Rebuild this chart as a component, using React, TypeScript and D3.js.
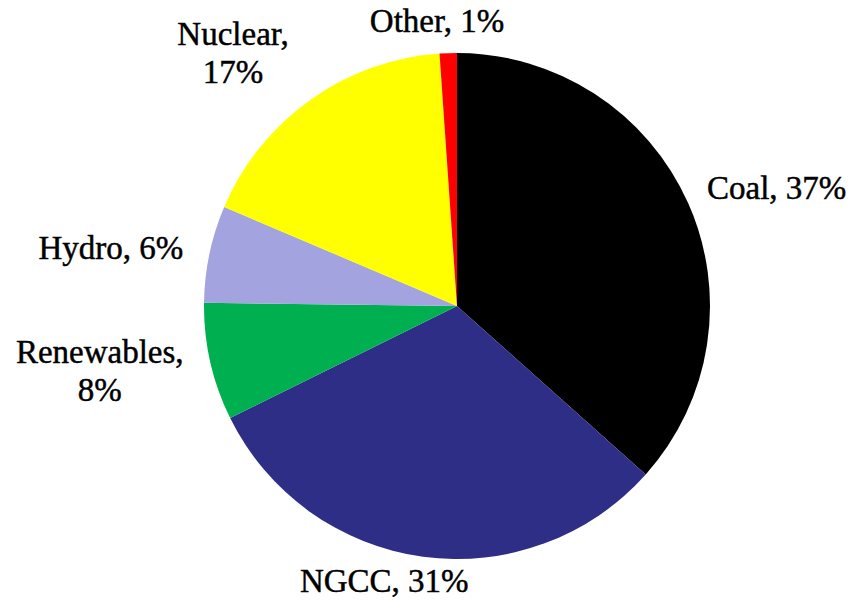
import React from "react";
import * as d3 from "d3";

const categories = ["Coal", "NGCC", "Renewables", "Hydro", "Nuclear", "Other"];
const values = [36.6, 31.1, 7.5, 6.2, 17.5, 1.1];
const labelLines = [["Coal, 37%"], ["NGCC, 31%"], ["Renewables,", "8%"], ["Hydro, 6%"], ["Nuclear,", "17%"], ["Other, 1%"]];
const colors = ["#000000", "#2E2E87", "#00B050", "#A3A3E0", "#FFFF00", "#FF0000"];
// label nudges (layout only)
const labelNudge = [[70.5, -6.5], [-36, 4], [-91, 4.3], [-79, -2], [-65.6, -31], [-10.6, -12]];

const W = 850, H = 606;
const CX = 457, CY = 306, R = 253;
const FONT = 33, LINE_H = 38;

export default function App() {
  const pie = d3.pie<number>().sort(null).value((d) => d)(values);
  const arc = d3.arc<d3.PieArcDatum<number>>().innerRadius(0).outerRadius(R);
  return (
    <svg width={W} height={H} style={{ position: "absolute", left: 0, top: 0, background: "#fff" }}
      fontFamily="'Liberation Serif', 'Times New Roman', serif" fontSize={FONT}>
      <g transform={`translate(${CX},${CY})`}>
        {pie.map((p, i) => (
          <path key={categories[i]} d={arc(p) || ""} fill={colors[i]} />
        ))}
        {pie.map((p, i) => {
          const mid = (p.startAngle + p.endAngle) / 2;
          const rr = R + 20;
          const x = rr * Math.sin(mid) + labelNudge[i][0];
          const yc = -rr * Math.cos(mid) + labelNudge[i][1];
          const lines = labelLines[i];
          const y0 = yc - ((lines.length - 1) * LINE_H) / 2 + 11;
          return (
            <text key={"l" + i} x={x} y={y0} textAnchor="middle" fill="#000" stroke="#000" strokeWidth={0.45}>
              {lines.map((t, j) => (
                <tspan key={j} x={x} y={y0 + j * LINE_H}>{t}</tspan>
              ))}
            </text>
          );
        })}
      </g>
    </svg>
  );
}
